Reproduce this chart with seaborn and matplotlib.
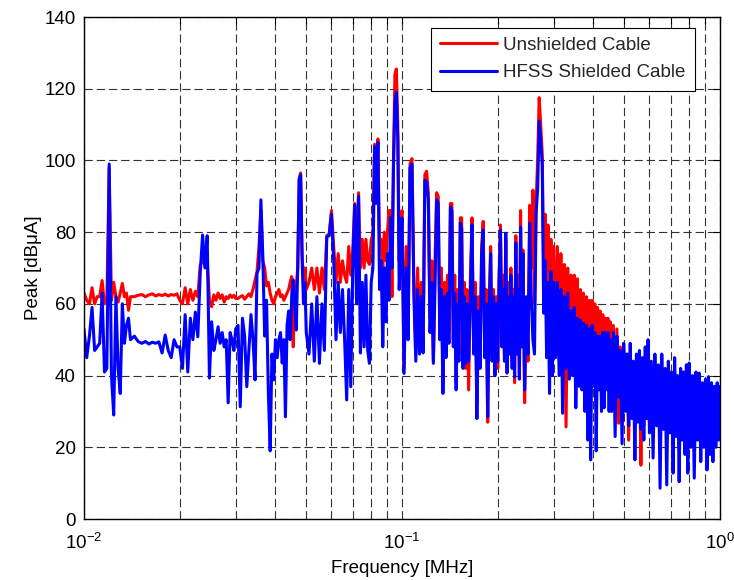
import matplotlib
matplotlib.use("Agg")
import matplotlib.pyplot as plt
import pandas as pd
import seaborn as sns

# Spectrum, frequency in MHz, peak in dBuA.
# 0.01 - 0.03 MHz
freq_1 = [0.0100, 0.0102, 0.0104, 0.0106, 0.0108, 0.0110, 0.0112, 0.0114, 0.0116, 0.0118,
          0.0120, 0.0122, 0.0124, 0.0126, 0.0128, 0.0130, 0.0132, 0.0134, 0.0136, 0.0138,
          0.0140, 0.0144, 0.0148, 0.0152, 0.0156, 0.0160, 0.0164, 0.0168, 0.0172, 0.0176,
          0.0180, 0.0184, 0.0188, 0.0192, 0.0196, 0.0200, 0.0204, 0.0208, 0.0212, 0.0216,
          0.0220, 0.0224, 0.0228, 0.0232, 0.0236, 0.0240, 0.0244, 0.0248, 0.0252, 0.0256,
          0.0260, 0.0264, 0.0268, 0.0272, 0.0276, 0.0280, 0.0284, 0.0288, 0.0292, 0.0296,
          0.0300]
red_1 = [63, 61, 60, 64.5, 60, 62, 62, 66.5, 60, 61,
         98, 61, 66, 62, 60.5, 63, 65.7, 62, 63, 58.2,
         62, 62, 62.4, 62.6, 62, 62.5, 62.8, 62.2, 62.6, 62.3,
         62.7, 62.2, 62.6, 62.4, 62.8, 61, 60, 64.5, 60, 64,
         61, 63.5, 62, 70.8, 72, 71, 72, 61, 59.2, 62.5,
         61, 63, 61.5, 62.5, 60.5, 62, 61.5, 62.5, 61.8, 62.4,
         61.5]
blue_1 = [53, 45, 51, 59, 47, 48, 49, 63, 41, 42,
          99, 40, 29, 62, 42, 35, 60, 49, 54, 56,
          50, 51, 49.5, 49, 49.5, 48.8, 49.3, 49, 49.4, 46.3,
          51.3, 47, 45, 50, 48, 48, 42, 57, 41, 56,
          50, 57.7, 50.8, 68.6, 79.2, 70, 79, 39.3, 55, 47,
          50, 53.6, 49, 52, 48, 50, 32.4, 52, 50, 47,
          53]

# 0.03 - 0.05 MHz
freq_2a = [0.0305, 0.0310, 0.0315, 0.0320, 0.0325, 0.0330, 0.0335, 0.0340, 0.0345, 0.0350,
           0.0355, 0.0360, 0.0365, 0.0370, 0.0375, 0.0380, 0.0385, 0.0390, 0.0395, 0.0400,
           0.0405, 0.0410, 0.0415, 0.0420, 0.0425, 0.0430, 0.0435, 0.0440, 0.0445, 0.0450,
           0.0455, 0.0460, 0.0465, 0.0470, 0.0475, 0.0480, 0.0485, 0.0490, 0.0495, 0.0500]
red_2a = [61.5, 62, 62.3, 61.3, 62, 62.8, 62, 64, 66.6, 69,
          76, 86, 72, 70, 65, 66, 63, 61, 60, 62,
          63, 64, 62, 62.5, 61, 62, 63, 64, 66, 67.6,
          48, 66, 65, 70, 95, 96.5, 74, 66, 70, 64]
blue_2a = [54, 31.3, 56, 51, 36.9, 47, 57, 50, 38.8, 68.5,
           70, 89, 73, 51, 61, 35, 19, 46, 38.8, 50,
           45, 50, 52, 43.5, 50, 28.5, 54, 58, 50, 62,
           66.7, 60, 52.7, 70, 94.5, 96, 73, 60, 66, 52]

# 0.05 - 0.1 MHz
freq_2b = [0.051, 0.052, 0.053, 0.054, 0.055, 0.056, 0.057, 0.058, 0.059, 0.060,
           0.061, 0.062, 0.063, 0.064, 0.065, 0.066, 0.067, 0.068, 0.069, 0.070,
           0.071, 0.072, 0.073, 0.074, 0.075, 0.076, 0.077, 0.078, 0.079, 0.080,
           0.081, 0.082, 0.083, 0.084, 0.085, 0.086, 0.087, 0.088, 0.089, 0.090,
           0.091, 0.092, 0.093, 0.094, 0.095, 0.096, 0.097, 0.098, 0.099, 0.100]
red_2b = [66, 70, 64, 70, 63, 70, 64, 79, 79.5, 86,
          76, 66, 74, 66, 72, 68, 66, 76, 68, 75,
          88, 76, 91, 70, 78, 70, 78, 72, 71, 78,
          79, 104.5, 90, 106, 76, 78, 70, 80, 72, 80,
          86, 86, 62, 100, 124, 125.5, 110, 72, 80, 86]
blue_2b = [46, 60, 44, 62, 43.4, 60, 47, 78.7, 79, 85,
           72, 50, 66, 52, 64, 50, 33.2, 64, 36.9, 70,
           87.6, 60, 90, 46.3, 66, 48, 68, 47, 43.4, 66,
           70, 103.8, 88, 105, 64, 72, 48, 70, 55, 74,
           61, 84, 70, 98, 116, 119, 106, 64, 75, 84]

# 0.1 - 0.16 MHz
freq_3a = [0.1015, 0.1030, 0.1045, 0.1060, 0.1075, 0.1090, 0.1105, 0.1120, 0.1135, 0.1150,
           0.1165, 0.1180, 0.1195, 0.1210, 0.1225, 0.1240, 0.1255, 0.1270, 0.1285, 0.1300,
           0.1315, 0.1330, 0.1345, 0.1360, 0.1375, 0.1390, 0.1405, 0.1420, 0.1435, 0.1450,
           0.1465, 0.1480, 0.1495, 0.1510, 0.1525, 0.1540, 0.1555, 0.1570, 0.1585, 0.1600]
red_3a = [42, 76, 55, 99, 100.5, 66, 46, 70, 48, 66,
          48, 96, 97, 91, 56, 72, 44, 72, 91, 90,
          52, 70, 38, 66, 47, 68, 52, 88, 88, 50,
          68, 38, 64, 46, 84, 84, 44, 66, 42, 64]
blue_3a = [40.6, 70, 50, 98, 99, 62, 44, 64, 46, 62,
           46.3, 94.5, 94, 89, 52, 66, 43.4, 65, 89, 88,
           50, 64, 35, 62, 45, 63, 49, 87, 86, 48,
           63, 36, 60, 44, 82.5, 81, 42, 62, 43.4, 60]

# 0.16 - 0.24 MHz
freq_3b = [0.162, 0.164, 0.166, 0.168, 0.170, 0.172, 0.174, 0.176, 0.178, 0.180,
           0.182, 0.184, 0.186, 0.188, 0.190, 0.192, 0.194, 0.196, 0.198, 0.200,
           0.202, 0.204, 0.206, 0.208, 0.210, 0.212, 0.214, 0.216, 0.218, 0.220,
           0.222, 0.224, 0.226, 0.228, 0.230, 0.232, 0.234, 0.236, 0.238, 0.240]
red_3b = [36, 66, 84, 48, 66, 32, 62, 44, 76, 83,
          46, 64, 27, 60, 76, 46, 64, 44, 62, 42,
          68, 82, 50, 68, 46, 78, 42, 66, 48, 70,
          44, 64, 38, 79, 48, 68, 40, 86, 50, 75]
blue_3b = [44, 62, 82, 46, 62, 28, 58, 42, 74, 80.6,
           45, 60, 28.5, 58, 74, 44, 62, 40, 60, 44,
           66, 80.6, 48, 64, 44, 79.7, 40.7, 62, 46, 68,
           42, 62, 39.6, 77, 46, 64, 39, 81.4, 48, 74]

# 0.24 - 0.3 MHz
freq_3c = [0.243, 0.246, 0.249, 0.252, 0.255, 0.258, 0.261, 0.264, 0.267, 0.270,
           0.273, 0.276, 0.279, 0.282, 0.285, 0.288, 0.291, 0.294, 0.297, 0.300]
red_3c = [32.4, 60, 44, 87.5, 70, 91.7, 60, 88, 100, 117.5,
          110, 102, 70, 85, 60, 82, 45, 78, 48, 76]
blue_3c = [36, 62, 46, 82.5, 62, 50, 46, 85.3, 92, 111,
           105, 99.3, 57.4, 72, 45, 66, 35, 69, 40, 66]

# 0.3 - 0.45 MHz
freq_4a = [0.304, 0.308, 0.312, 0.316, 0.320, 0.324, 0.328, 0.332, 0.336, 0.340,
           0.344, 0.348, 0.352, 0.356, 0.360, 0.364, 0.368, 0.372, 0.376, 0.380,
           0.384, 0.388, 0.392, 0.396, 0.400, 0.404, 0.408, 0.412, 0.416, 0.420,
           0.424, 0.428, 0.432, 0.436, 0.440, 0.444, 0.448, 0.452]
red_4a = [48, 76, 50, 74, 36, 71, 25.7, 70, 44, 68,
          40, 68, 34, 67, 40, 64, 42, 63, 38, 62,
          34, 61, 36, 61, 40, 60, 38, 59, 40, 58,
          36, 57, 40, 56, 40, 56, 36, 55]
blue_4a = [45, 66, 40, 64, 29.5, 62, 42, 63, 39, 58,
           40, 59, 31, 56, 37, 55.5, 36, 54.6, 30, 54,
           22, 53, 16.5, 54, 37, 52, 19, 51, 36, 51,
           30, 52, 31, 52, 36, 52, 30, 50]

# 0.45 - 0.6 MHz
freq_4b = [0.456, 0.462, 0.468, 0.474, 0.480, 0.486, 0.492, 0.498, 0.504, 0.510,
           0.516, 0.522, 0.528, 0.534, 0.540, 0.546, 0.552, 0.558, 0.564, 0.570,
           0.576, 0.582, 0.588, 0.594, 0.600]
red_4b = [33, 54, 30, 53, 26.7, 48, 30, 47, 32, 46,
          22, 45, 31, 43, 28, 44, 30, 45, 15, 44,
          26, 44, 28, 44, 27]
blue_4b = [30, 52, 23, 51, 34, 47, 21, 49, 30, 46,
           26, 49, 28, 44, 16.5, 46, 27, 47, 25, 45,
           22, 48, 28, 50, 24]

# 0.6 - 0.8 MHz
freq_4c = [0.608, 0.616, 0.624, 0.632, 0.640, 0.648, 0.656, 0.664, 0.672, 0.680,
           0.688, 0.696, 0.704, 0.712, 0.720, 0.728, 0.736, 0.744, 0.752, 0.760,
           0.768, 0.776, 0.784, 0.792, 0.800]
red_4c = [42, 25, 43, 28, 41, 24, 42, 27, 40, 22,
          41, 26, 40, 22, 41, 26, 39, 21, 40, 25,
          38, 23, 39, 22, 38]
blue_4c = [44, 17, 46, 26, 43, 8.6, 46, 25, 42, 9.5,
           44, 24, 41, 12.8, 45, 23, 40, 10.4, 42, 22,
           41, 18, 43, 12.8, 43.5]

# 0.8 - 1 MHz
freq_4d = [0.81, 0.82, 0.83, 0.84, 0.85, 0.86, 0.87, 0.88, 0.89, 0.90,
           0.91, 0.92, 0.93, 0.94, 0.95, 0.96, 0.97, 0.98, 0.99, 1.00]
red_4d = [24, 37, 21, 38, 23, 37, 22, 36, 23, 36,
          21, 37, 22, 36, 24, 36, 22, 35, 24, 36]
blue_4d = [20, 40, 11.4, 41, 22, 40.7, 16, 38, 20, 39,
           13.7, 39.7, 18, 38, 16, 37, 20, 38, 22, 37]

freq = freq_1 + freq_2a + freq_2b + freq_3a + freq_3b + freq_3c + freq_4a + freq_4b + freq_4c + freq_4d
red = red_1 + red_2a + red_2b + red_3a + red_3b + red_3c + red_4a + red_4b + red_4c + red_4d
blue = blue_1 + blue_2a + blue_2b + blue_3a + blue_3b + blue_3c + blue_4a + blue_4b + blue_4c + blue_4d

df = pd.DataFrame({"freq": freq, "unshielded": red, "shielded": blue})

sns.set_style("white")
plt.rcParams["font.family"] = ["Liberation Sans", "DejaVu Sans"]
plt.rcParams["mathtext.fontset"] = "custom"
plt.rcParams["mathtext.rm"] = "Liberation Sans"
plt.rcParams["mathtext.it"] = "Liberation Sans:italic"

fs = 13.5
fig = plt.figure(figsize=(7.34, 5.8), dpi=100)
ax = fig.add_axes([84 / 734, 61 / 580, 636 / 734, 502 / 580])

sns.lineplot(data=df, x="freq", y="unshielded", ax=ax, color="#ff0000", linewidth=2.2,
             estimator=None, sort=False, label="Unshielded Cable")
sns.lineplot(data=df, x="freq", y="shielded", ax=ax, color="#0000ff", linewidth=2.2,
             estimator=None, sort=False, label="HFSS Shielded Cable")

ax.set_xscale("log")
ax.set_xlim(0.01, 1)
ax.set_ylim(0, 140)
ax.set_yticks(range(0, 141, 20))

grid_kw = dict(color="#333333", linewidth=0.8, linestyle=(0, (7.5, 3.5)))
ax.grid(True, which="both", axis="x", **grid_kw)
ax.grid(True, which="major", axis="y", **grid_kw)
ax.set_axisbelow(True)

ax.tick_params(which="both", direction="in", top=True, right=True, length=5, width=0.8,
               color="black", labelsize=fs, labelcolor="black")
ax.tick_params(axis="y", pad=6)
ax.tick_params(axis="x", pad=10)
for s in ax.spines.values():
    s.set_color("black")
    s.set_linewidth(1.0)

ax.set_xlabel("Frequency [MHz]", fontsize=fs, color="black", labelpad=5)
ax.set_ylabel("Peak [dBμA]", fontsize=fs, color="black", labelpad=2)

leg = ax.legend(loc="upper right", bbox_to_anchor=(0.9607, 0.979), borderaxespad=0,
                frameon=True, fancybox=False, edgecolor="black", framealpha=1,
                handlelength=3.0, handletextpad=0.35, labelspacing=0.55, borderpad=0.5,
                fontsize=fs)
leg.get_frame().set_linewidth(0.8)

fig.savefig("out.png", dpi=100)
